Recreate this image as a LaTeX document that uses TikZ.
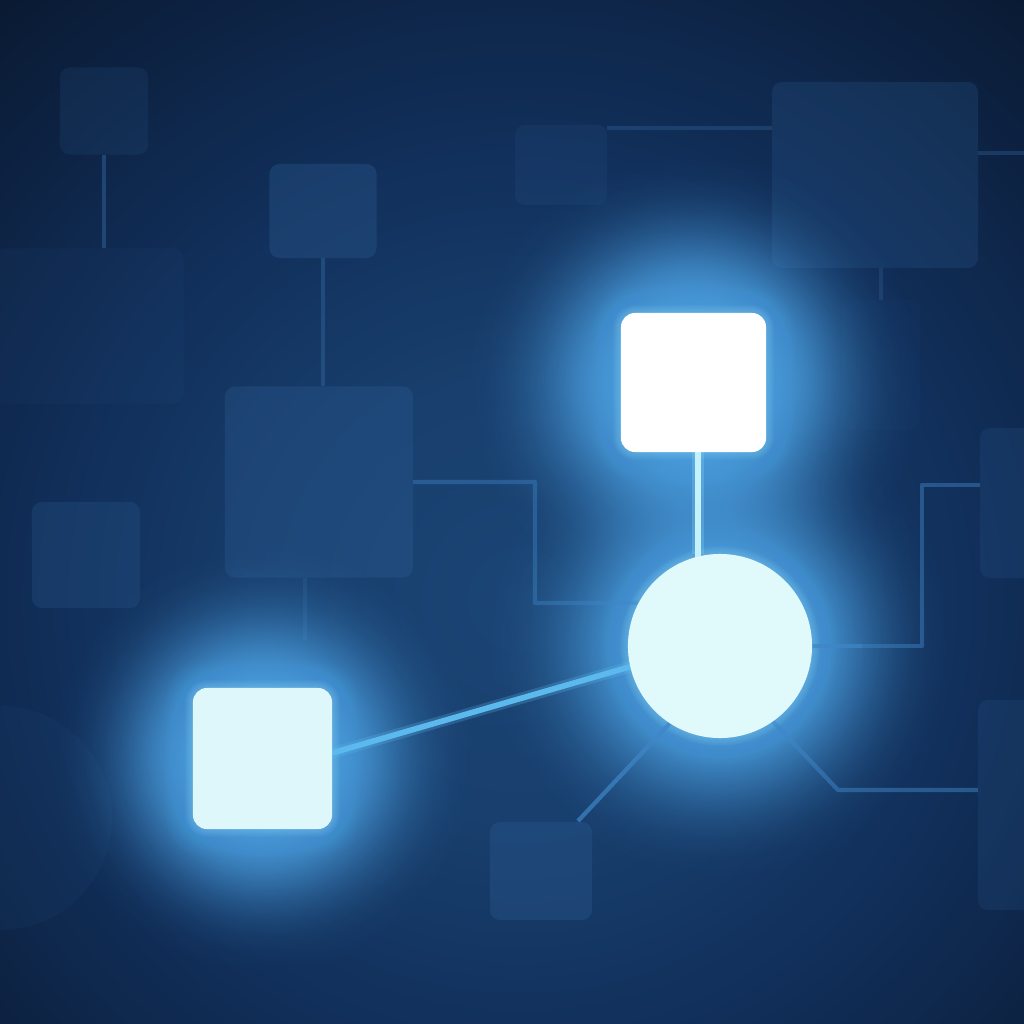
\documentclass[tikz,border=0pt]{standalone}
\usetikzlibrary{calc,fadings}
\definecolor{bgA}{HTML}{1B4575}
\definecolor{bgB}{HTML}{112F5A}
\definecolor{bgC}{HTML}{0A1A33}
\definecolor{faintc}{HTML}{2B5A8F}
\definecolor{flinec}{HTML}{2E5E94}
\definecolor{glowc}{HTML}{4CA2E4}
\definecolor{glowin}{HTML}{86D0F6}
\definecolor{mlinec}{HTML}{3F86C8}
\definecolor{linec}{HTML}{5CB9EE}
\definecolor{toplinec}{HTML}{C4F2FB}
\definecolor{hubc}{HTML}{E0FAFC}
\definecolor{leftc}{HTML}{DDF7FB}
\pgfdeclareradialshading{bgshade}{\pgfpoint{0bp}{0bp}}{color(0bp)=(bgA); color(7bp)=(bgA!70!bgB); color(14bp)=(bgB); color(24bp)=(bgC); color(50bp)=(bgC)}
\pgfdeclareradialshading{bloomsh}{\pgfpoint{0bp}{0bp}}{color(0bp)=(white!90!black); color(8.5bp)=(white!90!black); color(10.5bp)=(white!82!black); color(12.5bp)=(white!68!black); color(14.5bp)=(white!50!black); color(16.5bp)=(white!33!black); color(18.5bp)=(white!19!black); color(20.5bp)=(white!9!black); color(22.5bp)=(white!3!black); color(25bp)=(black); color(50bp)=(black)}
\pgfdeclarefading{bloom}{\pgfuseshading{bloomsh}}
\pgfdeclarelayer{back}\pgfdeclarelayer{glow}
\pgfsetlayers{back,glow,main}
\begin{document}
\begin{tikzpicture}[x=0.01cm,y=-0.01cm,
  faint/.style={fill=faintc, rounded corners=0.10cm, draw=none, inner sep=0pt, outer sep=0pt},
  fline/.style={draw=flinec, line width=0.9pt, draw opacity=0.55},
  mline/.style={draw=mlinec, line width=1.2pt, draw opacity=0.85},
  brightbox/.style={rounded corners=0.14cm, draw=none, inner sep=0pt, outer sep=0pt},
  bloomfill/.style={fill=glowc, path fading=bloom}]
\useasboundingbox (0,0) rectangle (1024,1024);
\clip (0,0) rectangle (1024,1024);
\begin{pgfonlayer}{back}
\shade[shading=bgshade] (-300,-220) rectangle (1340,1420);
% faint nodes
\node[faint, fill opacity=0.18, minimum width=0.88cm, minimum height=0.87cm] (f1) at (104,111) {};
\node[faint, fill opacity=0.08, minimum width=1.95cm, minimum height=1.55cm] (f2) at (86,326) {};
\node[faint, fill opacity=0.36, minimum width=1.07cm, minimum height=0.94cm] (f3) at (323,211) {};
\node[faint, fill opacity=0.36, minimum width=1.88cm, minimum height=1.91cm] (f4) at (319,482) {};
\node[faint, fill opacity=0.28, minimum width=1.08cm, minimum height=1.06cm] (f5) at (86,555) {};
\node[faint, fill opacity=0.16, minimum width=0.92cm, minimum height=0.8cm] (f6) at (561,165) {};
\node[faint, fill opacity=0.26, minimum width=2.06cm, minimum height=1.86cm] (f7) at (875,175) {};
\node[faint, fill opacity=0.22, minimum width=0.7cm, minimum height=1.5cm] (f8) at (1015,503) {};
\node[faint, fill opacity=0.36, minimum width=1.02cm, minimum height=0.98cm] (f9) at (541,871) {};
\node[faint, fill opacity=0.2, minimum width=0.7cm, minimum height=2.1cm] (f10) at (1013,805) {};
\node[faint, fill opacity=0.1, circle, minimum size=2.24cm] (f11) at (0,818) {};
\node[faint, fill opacity=0.06, minimum width=0.78cm, minimum height=1.3cm] (f12) at (881,365) {};
% faint connectors
\draw[fline] (f1.south) -- (f1.south |- f2.north);
\draw[fline] (f3.south) -- (f3.south |- f4.north);
\coordinate (c1) at (305,640);
\draw[fline, draw opacity=0.35] (c1 |- f4.south) -- (c1);
\draw[fline, draw opacity=0.4] (f6.east |- 0,128) -- (f7.west |- 0,128);
\draw[fline, draw opacity=0.35] (f7.south -| f12.north) -- (f12.north);
\coordinate (c2) at (1030,153);
\draw[fline, draw opacity=0.4] (f7.east |- c2) -- (c2);
\end{pgfonlayer}
% bright nodes
\node[brightbox, fill=white, minimum width=1.45cm, minimum height=1.39cm] (top) at (693.5,382.5) {};
\node[circle, fill=hubc, draw=none, inner sep=0pt, outer sep=0pt, minimum size=1.84cm] (hub) at (720,646) {};
\node[brightbox, fill=leftc, minimum width=1.39cm, minimum height=1.41cm] (left) at (262.5,758.5) {};
\begin{pgfonlayer}{glow}
% soft blooms
\fill[bloomfill] (top.center) circle[radius=230];
\fill[bloomfill] (left.center) circle[radius=215];
\fill[bloomfill] (hub.center) circle[radius=235];
% tight halos hugging each shape
\foreach \r [evaluate=\r as \rc using 0.14+0.01*\r] in {2,4,...,28}{
  \fill[glowc, opacity=0.045, rounded corners=\rc cm] ($(top.north west)+(-\r,-\r)$) rectangle ($(top.south east)+(\r,\r)$);
  \fill[glowc, opacity=0.045, rounded corners=\rc cm] ($(left.north west)+(-\r,-\r)$) rectangle ($(left.south east)+(\r,\r)$);
  \fill[glowc, opacity=0.045] (hub.center) circle[radius=92+\r];
}
\foreach \r [evaluate=\r as \rc using 0.14+0.01*\r] in {1,2,...,8}{
  \fill[glowin, opacity=0.06, rounded corners=\rc cm] ($(top.north west)+(-\r,-\r)$) rectangle ($(top.south east)+(\r,\r)$);
  \fill[glowin, opacity=0.06, rounded corners=\rc cm] ($(left.north west)+(-\r,-\r)$) rectangle ($(left.south east)+(\r,\r)$);
  \fill[glowin, opacity=0.06] (hub.center) circle[radius=92+\r];
}
% medium connectors from hub
\coordinate (r1) at (922,646);
\coordinate (r2) at (922,485);
\draw[mline, draw opacity=0.45, line join=round] (hub.east) -- (r1) -- (r2) -- (f8.west |- r2);
\draw[mline, draw opacity=0.5] (hub.east) -- ($(hub.east)!0.45!(r1)$);
\coordinate (b1) at (578,821);
\draw[mline, draw opacity=0.7] (hub.237) -- (b1);
\coordinate (b2) at (838,790);
\draw[mline, draw opacity=0.5, line join=round] (hub.-55) -- (b2) -- (f10.west |- b2);
\coordinate (u1) at (535,603);
\coordinate (u2) at (535,482);
\draw[mline, draw opacity=0.4, line join=round] (hub.152) -- (u1) -- (u2) -- (f4.east |- u2);
% bright connectors
\draw[linec, line width=3.2pt, opacity=0.25] (left.east |- 0,753) -- (hub.193);
\draw[linec, line width=1.6pt] (left.east |- 0,753) -- (hub.193);
\coordinate (t1) at (698,0);
\draw[glowin, line width=3.6pt, opacity=0.3] (t1 |- top.south) -- (t1 |- hub.north);
\draw[toplinec, line width=1.7pt] (t1 |- top.south) -- ($(t1 |- hub.north)+(0,6)$);
\end{pgfonlayer}
\end{tikzpicture}
\end{document}
